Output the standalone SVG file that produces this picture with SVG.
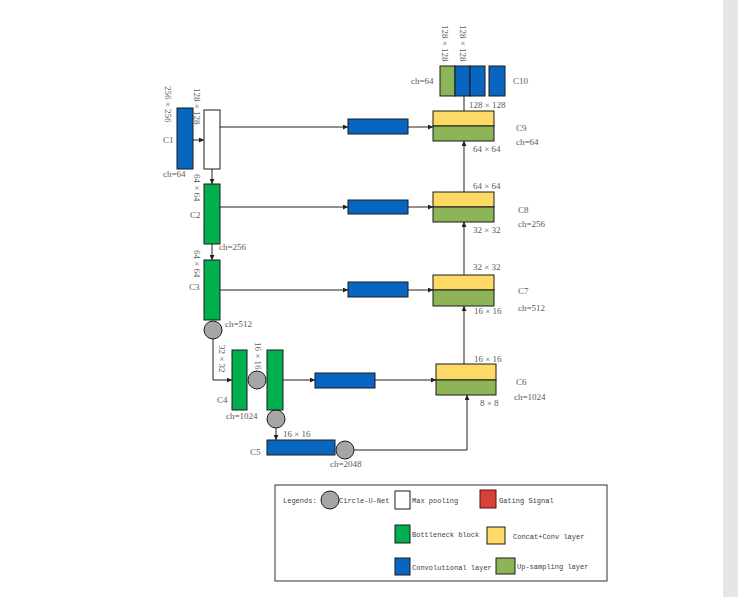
<svg xmlns="http://www.w3.org/2000/svg" width="738" height="597" viewBox="0 0 738 597">
<defs>
<marker id="ah" viewBox="0 0 6 6" refX="6" refY="3" markerWidth="5" markerHeight="5" orient="auto" markerUnits="userSpaceOnUse"><path d="M0,0 L6,3 L0,6 z" fill="#222"/></marker>
<style>
.b{fill:#0866c0;stroke:#1a1a1a;stroke-width:1}
.g{fill:#00b04f;stroke:#1a1a1a;stroke-width:1}
.w{fill:#fff;stroke:#1a1a1a;stroke-width:1}
.y{fill:#ffd966;stroke:#1a1a1a;stroke-width:1}
.u{fill:#8db456;stroke:#1a1a1a;stroke-width:1}
.r{fill:#d8403a;stroke:#5a1010;stroke-width:1}
.c{fill:#a6a6a6;stroke:#1a1a1a;stroke-width:1}
.t{font-family:"Liberation Serif",serif;font-size:9px;fill:#595959}
.m{font-family:"Liberation Mono",monospace;font-size:7px;fill:#404040}
.ln{fill:none;stroke:#222;stroke-width:1}
.la{fill:none;stroke:#222;stroke-width:1;marker-end:url(#ah)}
</style>
</defs>
<rect x="0" y="0" width="738" height="597" fill="#fff"/>
<rect x="724" y="0" width="14" height="597" fill="#e6e6e6"/>
<line x1="724" y1="0" x2="724" y2="597" stroke="#d8d8d8" stroke-width="1"/>

<g id="connectors">
<line class="la" x1="193" y1="140" x2="204" y2="140"/>
<line class="la" x1="220" y1="127" x2="348" y2="127"/>
<line class="la" x1="408" y1="127" x2="433" y2="127"/>
<line class="la" x1="212" y1="169" x2="212" y2="184"/>
<line class="la" x1="220" y1="207" x2="348" y2="207"/>
<line class="la" x1="408" y1="207" x2="433" y2="207"/>
<line class="la" x1="212" y1="244" x2="212" y2="260"/>
<line class="la" x1="220" y1="290" x2="348" y2="290"/>
<line class="la" x1="408" y1="290" x2="433" y2="290"/>
<path class="la" d="M213,339 L213,380 L232,380"/>
<line class="la" x1="283" y1="380" x2="315" y2="380"/>
<line class="la" x1="375" y1="380" x2="436" y2="380"/>
<line class="la" x1="276" y1="428" x2="276" y2="440"/>
<path class="la" d="M354,450 L467,450 L467,395"/>
<line class="la" x1="464" y1="364" x2="464" y2="306"/>
<line class="la" x1="464" y1="275" x2="464" y2="222"/>
<line class="la" x1="464" y1="192" x2="464" y2="141"/>
<line class="ln" x1="464" y1="111" x2="464" y2="96"/>
</g>

<g id="C1">
<rect class="b" x="177" y="108" width="16" height="61"/>
<text class="t" transform="translate(165,86) rotate(90)">256 × 256</text>
<text class="t" x="163" y="143">C1</text>
<text class="t" x="163" y="177">ch=64</text>
</g>
<g id="maxpool">
<rect class="w" x="204" y="110" width="16" height="59"/>
<text class="t" transform="translate(194,88) rotate(90)">128 × 128</text>
</g>
<g id="C2">
<rect class="g" x="204" y="184" width="16" height="60"/>
<text class="t" transform="translate(194,174) rotate(90)">64 × 64</text>
<text class="t" x="190" y="218">C2</text>
<text class="t" x="219" y="250">ch=256</text>
</g>
<g id="C3">
<rect class="g" x="204" y="260" width="16" height="60"/>
<text class="t" transform="translate(194,250) rotate(90)">64 × 64</text>
<text class="t" x="189" y="290">C3</text>
<circle class="c" cx="213" cy="330" r="9"/>
<text class="t" x="225" y="327">ch=512</text>
</g>
<g id="C4">
<rect class="g" x="232" y="350" width="15" height="60"/>
<text class="t" transform="translate(219,345) rotate(90)">32 × 32</text>
<circle class="c" cx="257" cy="380" r="9"/>
<text class="t" transform="translate(255,342) rotate(90)">16 × 16</text>
<rect class="g" x="267" y="350" width="16" height="60"/>
<text class="t" x="217" y="403">C4</text>
<text class="t" x="226" y="419">ch=1024</text>
<circle class="c" cx="276" cy="419" r="9"/>
</g>
<g id="C5">
<rect class="b" x="267" y="440" width="68" height="15"/>
<text class="t" x="283" y="437">16 × 16</text>
<text class="t" x="250" y="455">C5</text>
<circle class="c" cx="345" cy="450" r="9"/>
<text class="t" x="330" y="467">ch=2048</text>
</g>
<g id="conv1"><rect class="b" x="348" y="119" width="60" height="15"/></g>
<g id="conv2"><rect class="b" x="348" y="200" width="60" height="14"/></g>
<g id="conv3"><rect class="b" x="348" y="282" width="60" height="15"/></g>
<g id="conv4"><rect class="b" x="315" y="373" width="60" height="15"/></g>
<g id="C6">
<rect class="y" x="436" y="364" width="60" height="16"/>
<rect class="u" x="436" y="380" width="60" height="15"/>
<text class="t" x="474" y="362">16 × 16</text>
<text class="t" x="516" y="385">C6</text>
<text class="t" x="514" y="400">ch=1024</text>
<text class="t" x="480" y="406">8 × 8</text>
</g>
<g id="C7">
<rect class="y" x="433" y="275" width="61" height="15"/>
<rect class="u" x="433" y="290" width="61" height="16"/>
<text class="t" x="473" y="270">32 × 32</text>
<text class="t" x="518" y="294">C7</text>
<text class="t" x="518" y="311">ch=512</text>
<text class="t" x="474" y="314">16 × 16</text>
</g>
<g id="C8">
<rect class="y" x="433" y="192" width="61" height="15"/>
<rect class="u" x="433" y="207" width="61" height="15"/>
<text class="t" x="473" y="189">64 × 64</text>
<text class="t" x="518" y="213">C8</text>
<text class="t" x="518" y="227">ch=256</text>
<text class="t" x="473" y="233">32 × 32</text>
</g>
<g id="C9">
<rect class="y" x="433" y="111" width="61" height="15"/>
<rect class="u" x="433" y="126" width="61" height="15"/>
<text class="t" x="469" y="108">128 × 128</text>
<text class="t" x="516" y="131">C9</text>
<text class="t" x="516" y="145">ch=64</text>
<text class="t" x="473" y="152">64 × 64</text>
</g>
<g id="C10">
<rect class="u" x="440" y="66" width="15" height="30"/>
<rect class="b" x="455" y="66" width="15" height="30"/>
<rect class="b" x="470" y="66" width="15" height="30"/>
<rect class="b" x="489" y="66" width="16" height="30"/>
<text class="t" transform="translate(442,25) rotate(90)">128 × 128</text>
<text class="t" transform="translate(460,25) rotate(90)">128 × 128</text>
<text class="t" x="411" y="84">ch=64</text>
<text class="t" x="513" y="84">C10</text>
</g>

<g id="legend">
<rect x="275" y="485" width="332" height="96" fill="#fff" stroke="#333" stroke-width="1"/>
<text class="m" x="283" y="503">Legends:</text>
<circle class="c" cx="330" cy="500" r="9"/>
<text class="m" x="339" y="503">Circle-U-Net</text>
<rect class="w" x="395" y="491" width="15" height="18"/>
<text class="m" x="412" y="503">Max pooling</text>
<rect class="r" x="480" y="490" width="16" height="18"/>
<text class="m" x="499" y="503">Gating Signal</text>
<rect class="g" x="395" y="525" width="15" height="18"/>
<text class="m" x="412" y="537">Bottleneck block</text>
<rect class="y" x="487" y="527" width="18" height="17"/>
<text class="m" x="513" y="539">Concat+Conv layer</text>
<rect class="b" x="395" y="558" width="15" height="17"/>
<text class="m" x="412" y="570">Convolutional layer</text>
<rect class="u" x="496" y="558" width="19" height="16"/>
<text class="m" x="517" y="569">Up-sampling layer</text>
</g>
</svg>
